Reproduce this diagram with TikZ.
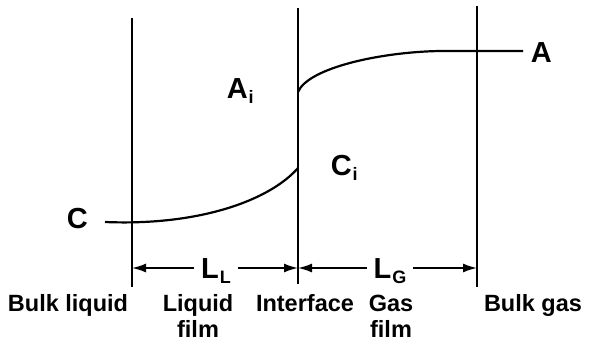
\documentclass[tikz,border=0pt]{standalone}
\usepackage{fontspec}
\setmainfont{Liberation Sans}
\usetikzlibrary{arrows.meta,positioning}
\newcommand\lowsub[1]{\kern1pt\raisebox{-5pt}{\fontsize{18}{18}\selectfont #1}}

\begin{document}
\begin{tikzpicture}[x=1pt, y=-1pt, line width=1.6pt,
  every node/.style={font=\bfseries\fontsize{23.5}{26}\selectfont, inner sep=0pt},
  big/.style={font=\bfseries\fontsize{29}{32}\selectfont},
  dimlabel/.style={font=\bfseries\fontsize{29}{32}\selectfont, text height=21pt, text depth=0pt, inner xsep=6pt},
  dim/.style={-{Latex[length=14pt,width=9pt]}, line width=1.6pt}]
  \useasboundingbox (0,0) rectangle (589,345);

  % film boundaries
  \coordinate (bl top) at (132,18);
  \coordinate (bl bot) at (132,287);
  \coordinate (if top) at (298,8);
  \coordinate (if bot) at (298,284);
  \coordinate (bg top) at (477,6);
  \coordinate (bg bot) at (477,287);
  \draw (bl top) -- (bl bot);
  \draw (if top) -- (if bot);
  \draw (bg top) -- (bg bot);

  % concentration profiles
  \coordinate (A start) at (298,92);
  \coordinate (A end) at (523,51);
  \coordinate (C start) at (105,222);
  \coordinate (C end) at (298,168);
  \draw[line width=2.2pt] (A start) .. controls (308,68) and (380,52) .. (440,51) -- (A end);
  \draw[line width=2.2pt] (C start) .. controls (200,226) and (270,200) .. (C end);

  \node[big, anchor=base west] (A) at (530,63) {A};
  \node[big, anchor=base west] (C) at (66,228) {C};
  \node[big, anchor=base west] (Ai) at (226,99) {A\lowsub{i}};
  \node[big, anchor=base west] (Ci) at (330,175) {C\lowsub{i}};

  % film thicknesses
  \coordinate (bl dim) at (132,268);
  \coordinate (if dim) at (298,268);
  \coordinate (bg dim) at (477,268);
  \node[dimlabel] (LL) at (216,268) {L\lowsub{L}};
  \node[dimlabel] (LG) at (390,268) {L\lowsub{G}};
  \draw[dim] (LL) -- (bl dim);
  \draw[dim] (LL) -- (if dim);
  \draw[dim] (LG) -- (if dim);
  \draw[dim] (LG) -- (bg dim);

  % regions
  \node[anchor=north] (bulk liq) at (68,294) {Bulk liquid};
  \node[anchor=north, align=center] (liq film) at (198,294) {Liquid\\film};
  \node[anchor=north] (iface) at (305,294) {Interface};
  \node[anchor=north, align=center] (gas film) at (391,294) {Gas\\film};
  \node[anchor=north] (bulk gas) at (533,294) {Bulk gas};
\end{tikzpicture}
\end{document}
